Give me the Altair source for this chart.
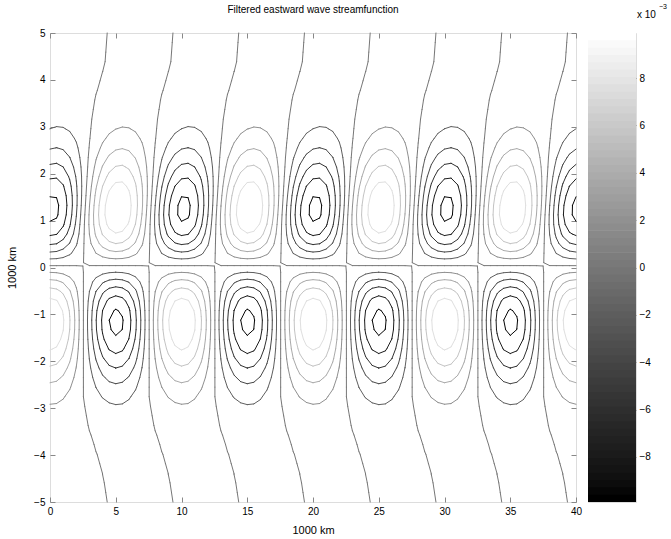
import altair as alt
import numpy as np
import pandas as pd

alt.data_transformers.disable_max_rows()

# ---------------- values ----------------
TITLE = "Filtered eastward wave streamfunction"
X_TITLE = "1000 km"
Y_TITLE = "1000 km"
X_DOMAIN = [0, 40]
Y_DOMAIN = [-5, 5]
X_TICKS = [0, 5, 10, 15, 20, 25, 30, 35, 40]
Y_TICKS = [-5, -4, -3, -2, -1, 0, 1, 2, 3, 4, 5]
CBAR_TICKS = [-8, -6, -4, -2, 0, 2, 4, 6, 8]
CBAR_RANGE = [-9.9, 9.9]          # in units of 1e-3
CBAR_STEPS = 64
LEVELS = [-9.5, -7.6, -5.7, -3.8, -1.9, 0.0, 1.9, 3.8, 5.7, 7.6, 9.5]

WAVELENGTH = 10.0                  # 1000 km
PEAK_NEG = 10.1                    # depth of the dark cells (x1e-3)
PEAK_POS = 9.4                     # height of the light cells (x1e-3)
CELL_LAT = 1.2                     # latitude of the cell centres (1000 km)
EQ_OFFSET = 0.04                   # latitude of the nodal line
# eastward drift of the phase lines away from the equator
DRIFT_Y_N = [0.0, 1.0, 2.4, 3.15, 3.6, 4.35, 5.0]
DRIFT_N = [0.04, 0.12, 0.42, 0.67, 0.92, 1.68, 1.85]
DRIFT_Y_S = [-5.0, -4.45, -3.95, -3.4, -2.8, 0.0]
DRIFT_S = [1.85, 1.55, 1.05, 0.42, 0.04, 0.04]

# ---------------- field on the model grid ----------------
xg = np.linspace(X_DOMAIN[0], X_DOMAIN[1], 81)
yg = np.linspace(Y_DOMAIN[0], Y_DOMAIN[1], 50)
X, Y = np.meshgrid(xg, yg)
drift = np.where(Y >= 0, np.interp(Y, DRIFT_Y_N, DRIFT_N), np.interp(Y, DRIFT_Y_S, DRIFT_S))
t = (Y - EQ_OFFSET) / CELL_LAT
G = t * np.exp(0.5 - 0.5 * t ** 2)
u = G * np.cos(2 * np.pi * (X - drift) / WAVELENGTH)
A = (PEAK_NEG + PEAK_POS) / 2
B = (PEAK_NEG - PEAK_POS) / 2
PSI = -(A * u + B * u * u)


def contour_segments(xs, ys, Z, level):
    out = []
    ny, nx = Z.shape
    above = Z >= level
    for j in range(ny - 1):
        for i in range(nx - 1):
            c = [above[j, i], above[j, i + 1], above[j + 1, i + 1], above[j + 1, i]]
            s = int(sum(c))
            if s == 0 or s == 4:
                continue
            v = [Z[j, i], Z[j, i + 1], Z[j + 1, i + 1], Z[j + 1, i]]
            px = [xs[i], xs[i + 1], xs[i + 1], xs[i]]
            py = [ys[j], ys[j], ys[j + 1], ys[j + 1]]
            pts = {}
            for k in range(4):
                a, b = k, (k + 1) % 4
                if c[a] != c[b]:
                    f = (level - v[a]) / (v[b] - v[a])
                    pts[k] = (px[a] + f * (px[b] - px[a]), py[a] + f * (py[b] - py[a]))
            if len(pts) == 2:
                k1, k2 = list(pts.keys())
                out.append((pts[k1][0], pts[k1][1], pts[k2][0], pts[k2][1]))
            else:
                center = np.mean(v) >= level
                for k in range(4):
                    if c[k] != center:
                        e1, e2 = (k - 1) % 4, k
                        out.append((pts[e1][0], pts[e1][1], pts[e2][0], pts[e2][1]))
    return out


rows = []
for lev in LEVELS:
    for (x1, y1, x2, y2) in contour_segments(xg, yg, PSI, lev):
        rows.append({"x": round(float(x1), 4), "y": round(float(y1), 4),
                     "x2": round(float(x2), 4), "y2": round(float(y2), 4), "level": lev})
segs = pd.DataFrame(rows)

# ---------------- colour scale (MATLAB gray map) ----------------
edges = np.linspace(CBAR_RANGE[0], CBAR_RANGE[1], CBAR_STEPS + 1)
bands = pd.DataFrame({"lo": edges[:-1], "hi": edges[1:] + 0.03,
                      "mid": (edges[:-1] + edges[1:]) / 2, "x0": 0.0, "x1": 1.0})
color_scale = alt.Scale(domain=[float(bands["mid"].iloc[0]), float(bands["mid"].iloc[-1])],
                        range=["#000000", "#ffffff"], clamp=True)

FONT = "Liberation Sans"
TICK = 5
xscale = alt.Scale(domain=X_DOMAIN, nice=False, zero=False)
yscale = alt.Scale(domain=Y_DOMAIN, nice=False, zero=False)

lines = alt.Chart(segs).mark_rule(strokeWidth=1, strokeCap="round").encode(
    x=alt.X("x:Q", scale=xscale,
            axis=alt.Axis(values=X_TICKS, title=X_TITLE, orient="bottom", tickSize=TICK, offset=-TICK,
                          domain=False, grid=False, labelPadding=4, labelFlush=False,
                          titlePadding=8, titleFontWeight="normal")),
    y=alt.Y("y:Q", scale=yscale,
            axis=alt.Axis(values=Y_TICKS, title=Y_TITLE, orient="left", tickSize=TICK, offset=-TICK,
                          domain=False, grid=False, labelPadding=5, titlePadding=16,
                          titleFontWeight="normal")),
    x2="x2",
    y2="y2",
    color=alt.Color("level:Q", scale=color_scale, legend=None),
)

frame_ticks = alt.Chart(pd.DataFrame({"x": [0.0], "y": [0.0]})).mark_point(opacity=0).encode(
    x=alt.X("x:Q", scale=xscale,
            axis=alt.Axis(values=X_TICKS, orient="top", labels=False, title=None, tickSize=TICK,
                          offset=-TICK, domain=False, grid=False)),
    y=alt.Y("y:Q", scale=yscale,
            axis=alt.Axis(values=Y_TICKS, orient="right", labels=False, title=None, tickSize=TICK,
                          offset=-TICK, domain=False, grid=False)),
)

main = alt.layer(lines, frame_ticks).resolve_axis(x="independent", y="independent").properties(
    width=526, height=469,
    title=alt.TitleParams(TITLE, fontSize=10, fontWeight="normal", font=FONT, color="black",
                          anchor="middle", offset=13),
)

cscale_y = alt.Scale(domain=CBAR_RANGE, nice=False, zero=False)
cscale_x = alt.Scale(domain=[0, 1])
cbar_rect = alt.Chart(bands).mark_rect(strokeWidth=0).encode(
    x=alt.X("x0:Q", scale=cscale_x, axis=None),
    x2="x1",
    y=alt.Y("lo:Q", scale=cscale_y,
            axis=alt.Axis(values=CBAR_TICKS, orient="right", tickSize=TICK, offset=-TICK, domain=False,
                          grid=False, labelPadding=3, title=None)),
    y2="hi",
    color=alt.Color("mid:Q", scale=color_scale, legend=None),
)
cbar_left = alt.Chart(pd.DataFrame({"v": [0.0]})).mark_point(opacity=0).encode(
    y=alt.Y("v:Q", scale=cscale_y,
            axis=alt.Axis(values=CBAR_TICKS, orient="left", labels=False, tickSize=TICK, offset=-TICK,
                          domain=False, grid=False, title=None)),
)
exp_base = alt.Chart(pd.DataFrame({"t": ["x 10"]})).mark_text(
    align="left", baseline="alphabetic", fontSize=10, font=FONT, color="black", dx=1, dy=-15
).encode(x=alt.XDatum(1.0, scale=cscale_x, axis=None),
         y=alt.YDatum(CBAR_RANGE[1], scale=cscale_y, axis=None), text="t:N")
exp_sup = alt.Chart(pd.DataFrame({"t": ["\u22123"]})).mark_text(
    align="left", baseline="alphabetic", fontSize=7, font=FONT, color="black", dx=23, dy=-24
).encode(x=alt.XDatum(1.0, scale=cscale_x, axis=None),
         y=alt.YDatum(CBAR_RANGE[1], scale=cscale_y, axis=None), text="t:N")

cbar = alt.layer(cbar_rect, cbar_left, exp_base, exp_sup).resolve_axis(y="independent").properties(
    width=48, height=469)

chart = alt.hconcat(main, cbar, spacing=4).properties(
    padding={"left": 6, "top": 2, "right": 0, "bottom": 0}
).configure_view(stroke="black", strokeWidth=1).configure_axis(
    labelFont=FONT, labelFontSize=10, labelColor="black", titleFont=FONT, titleFontSize=10,
    titleFontWeight="normal", titleColor="black", tickColor="black", tickWidth=1,
).configure(background="white")

chart.save("out.html", embed_options={"renderer": "svg", "actions": False})
